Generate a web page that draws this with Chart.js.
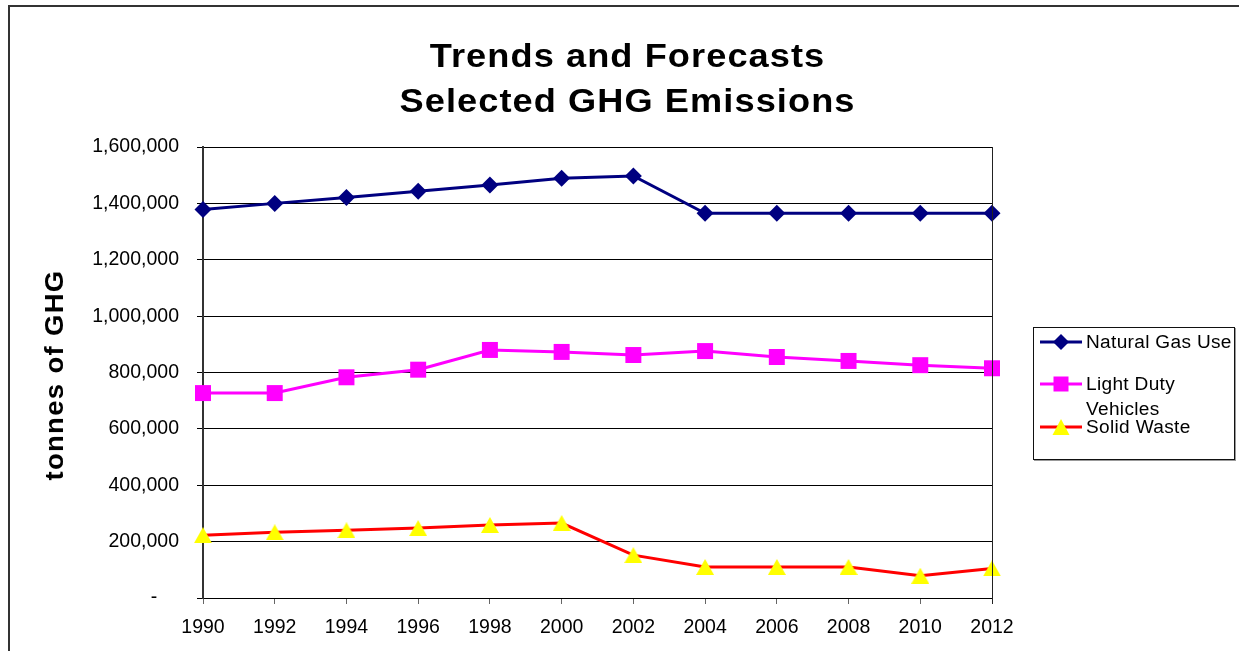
<!DOCTYPE html>
<html>
<head>
<meta charset="utf-8">
<script src="https://cdn.jsdelivr.net/npm/chart.js@4/dist/chart.umd.min.js"></script>
<style>
  html, body { margin: 0; padding: 0; background: #fff; overflow: hidden; }
  #wrap { position: relative; width: 1239px; height: 651px; overflow: hidden; font-family: "Liberation Sans", Arial, sans-serif; }
  #frame { position: absolute; left: 8px; top: 5px; width: 1400px; height: 800px; border-left: 2px solid #333; border-top: 2px solid #333; }
  canvas { position: absolute; left: 0; top: 0; }
  .title { position: absolute; left: 0; width: 1255px; text-align: center; font-weight: bold; font-size: 33.5px; line-height: 45px; letter-spacing: 1px; color: #000; white-space: nowrap; transform: scaleX(1.08); transform-origin: 627px 0; }
  #ytitle { position: absolute; width: 300px; height: 30px; line-height: 30px; left: -96px; top: 360px; text-align: center; font-weight: bold; font-size: 25px; letter-spacing: 1.2px; transform: rotate(-90deg) scaleX(1.1); white-space: nowrap; color: #000; }
  #legend { position: absolute; left: 1033px; top: 327px; width: 200px; height: 131px; border: 1px solid #111; box-shadow: 1px 1px 0 #999; background: #fff; }
  .ltxt { position: absolute; font-size: 18px; line-height: 24px; letter-spacing: 0.3px; white-space: nowrap; color: #000; transform: scaleX(1.06); transform-origin: 0 0; }
</style>
</head>
<body>
<div id="wrap">
  <div id="frame"></div>
  <canvas id="c" width="1239" height="651"></canvas>
  <div class="title" style="top:33px">Trends and Forecasts</div>
  <div class="title" style="top:78px">Selected GHG Emissions</div>
  <div id="ytitle">tonnes of GHG</div>
  <div id="legend"></div>
</div>
<script>
// ---- data ----
const years = ['1990','1992','1994','1996','1998','2000','2002','2004','2006','2008','2010','2012'];
const naturalGas = [1378000, 1400000, 1421000, 1443000, 1465000, 1489000, 1497000, 1365000, 1365000, 1365000, 1365000, 1365000];
const lightDuty  = [727000, 727000, 783000, 810000, 880000, 873000, 862000, 876000, 855000, 841000, 826000, 815000];
const solidWaste = [223000, 233000, 240000, 248000, 259000, 266000, 152000, 110000, 110000, 110000, 79000, 105000];
const seriesNames = ['Natural Gas Use', 'Light Duty Vehicles', 'Solid Waste'];
const yMin = 0, yMax = 1600000, yStep = 200000;

// triangle marker centered by bounding box
function triImg(w, h, color) {
  const c = document.createElement('canvas');
  c.width = w; c.height = h;
  const g = c.getContext('2d');
  g.fillStyle = color;
  g.beginPath();
  g.moveTo(w / 2, 0); g.lineTo(w, h); g.lineTo(0, h); g.closePath();
  g.fill();
  return c;
}
const tri = triImg(18, 16, '#FFFF00');

const frameBorder = {
  id: 'frameBorder',
  afterDatasetsDraw(chart) {
    const a = chart.chartArea, ctx = chart.ctx;
    ctx.save();
    ctx.strokeStyle = '#222';
    ctx.lineWidth = 1;
    ctx.beginPath();
    ctx.moveTo(Math.round(a.right) + 0.5, a.top);
    ctx.lineTo(Math.round(a.right) + 0.5, a.bottom + 6);
    ctx.stroke();
    ctx.restore();
  }
};

const tickFont = { family: '"Liberation Sans", Arial, sans-serif', size: 19.5 };

new Chart(document.getElementById('c'), {
  type: 'line',
  data: {
    labels: years,
    datasets: [
      { label: seriesNames[0], data: naturalGas, borderColor: '#000080', borderWidth: 3,
        pointStyle: 'rectRot', pointRadius: 8.5, pointBackgroundColor: '#000080', pointBorderColor: '#000080', pointBorderWidth: 0, clip: false },
      { label: seriesNames[1], data: lightDuty, borderColor: '#FF00FF', borderWidth: 3,
        pointStyle: 'rect', pointRadius: 11.3, pointBackgroundColor: '#FF00FF', pointBorderColor: '#FF00FF', pointBorderWidth: 0, clip: false },
      { label: seriesNames[2], data: solidWaste, borderColor: '#FF0000', borderWidth: 3,
        pointStyle: tri, pointRadius: 9, pointBackgroundColor: '#FFFF00', pointBorderWidth: 0, clip: false }
    ]
  },
  options: {
    responsive: false,
    animation: false,
    devicePixelRatio: 1,
    layout: { padding: { left: 0, top: 147, right: 247, bottom: 0 } },
    plugins: { legend: { display: false }, title: { display: false }, tooltip: { enabled: false } },
    elements: { line: { tension: 0 } },
    scales: {
      x: {
        type: 'category',
        offset: false,
        grid: { drawOnChartArea: false, drawTicks: true, tickLength: 6, color: '#666', lineWidth: 1 },
        border: { display: true, color: '#000', width: 1 },
        ticks: { color: '#000', font: tickFont, padding: 12, maxRotation: 0, autoSkip: false },
        afterFit(s) { s.height = 53; }
      },
      y: {
        min: yMin, max: yMax,
        grid: { color: '#000', lineWidth: 1, drawTicks: true, tickLength: 6 },
        border: { display: true, color: '#333', width: 2 },
        ticks: {
          stepSize: yStep, color: '#000', font: tickFont, padding: 18,
          callback: v => v === 0 ? '-    ' : v.toLocaleString('en-US')
        },
        afterFit(s) { s.width = 203; }
      }
    }
  },
  plugins: [frameBorder]
});

// ---- legend (HTML) ----
(function () {
  const lg = document.getElementById('legend');
  const ox = 1034, oy = 328; // inner origin
  const words = seriesNames[1].split(' ');
  const rows = [
    { y: 342, lines: [seriesNames[0]] },
    { y: 384, lines: [words.slice(0, 2).join(' '), words.slice(2).join(' ')] },
    { y: 427, lines: [seriesNames[2]] }
  ];
  const svgNS = 'http://www.w3.org/2000/svg';
  const svg = document.createElementNS(svgNS, 'svg');
  svg.setAttribute('width', '200'); svg.setAttribute('height', '131');
  svg.style.position = 'absolute'; svg.style.left = '0'; svg.style.top = '0';
  const colors = ['#000080', '#FF00FF', '#FF0000'];
  rows.forEach((r, i) => {
    const cy = r.y - oy;
    const ln = document.createElementNS(svgNS, 'line');
    ln.setAttribute('x1', 1040 - ox); ln.setAttribute('x2', 1082 - ox);
    ln.setAttribute('y1', cy); ln.setAttribute('y2', cy);
    ln.setAttribute('stroke', colors[i]); ln.setAttribute('stroke-width', '3');
    svg.appendChild(ln);
    const cx = 1061 - ox;
    let m;
    if (i === 0) {
      m = document.createElementNS(svgNS, 'polygon');
      m.setAttribute('points', `${cx},${cy-8} ${cx+8},${cy} ${cx},${cy+8} ${cx-8},${cy}`);
      m.setAttribute('fill', '#000080');
    } else if (i === 1) {
      m = document.createElementNS(svgNS, 'rect');
      m.setAttribute('x', cx - 7.5); m.setAttribute('y', cy - 7.5);
      m.setAttribute('width', 15); m.setAttribute('height', 15);
      m.setAttribute('fill', '#FF00FF');
    } else {
      m = document.createElementNS(svgNS, 'polygon');
      m.setAttribute('points', `${cx},${cy-8} ${cx+8.5},${cy+8} ${cx-8.5},${cy+8}`);
      m.setAttribute('fill', '#FFFF00');
    }
    svg.appendChild(m);
    r.lines.forEach((t, k) => {
      const d = document.createElement('div');
      d.className = 'ltxt';
      d.textContent = t;
      d.style.left = (1086 - ox) + 'px';
      d.style.top = (r.y + k * 25 - 12 - oy) + 'px';
      lg.appendChild(d);
    });
  });
  lg.appendChild(svg);
})();
</script>
</body>
</html>
